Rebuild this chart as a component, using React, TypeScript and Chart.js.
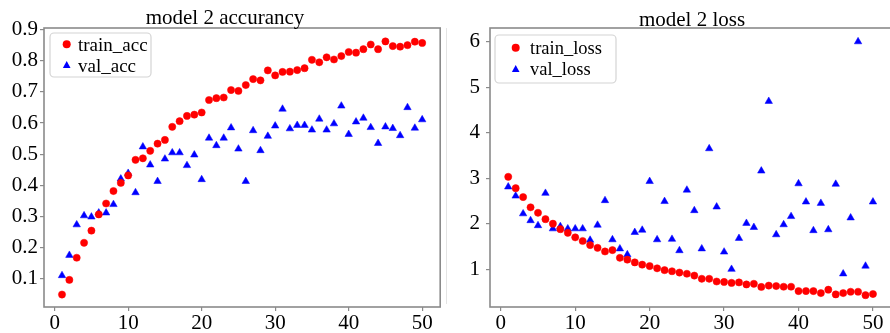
import React, { useEffect, useRef } from "react";
import { Chart, registerables } from "chart.js";

Chart.register(...registerables);

// ---- data ----
const epochs = [
  1, 2, 3, 4, 5, 6, 7, 8, 9, 10, 11, 12, 13, 14, 15, 16, 17, 18, 19, 20, 21, 22, 23, 24, 25,
  26, 27, 28, 29, 30, 31, 32, 33, 34, 35, 36, 37, 38, 39, 40, 41, 42, 43, 44, 45, 46, 47, 48, 49, 50,
];

const trainAcc = [
  0.05, 0.097, 0.168, 0.216, 0.255, 0.307, 0.342, 0.382, 0.408, 0.432,
  0.482, 0.487, 0.511, 0.534, 0.546, 0.588, 0.606, 0.623, 0.627, 0.634,
  0.674, 0.68, 0.682, 0.706, 0.703, 0.722, 0.741, 0.737, 0.769, 0.753,
  0.764, 0.765, 0.77, 0.776, 0.803, 0.795, 0.811, 0.804, 0.815, 0.828,
  0.826, 0.837, 0.852, 0.837, 0.862, 0.847, 0.845, 0.85, 0.861, 0.857,
];

const valAcc = [
  0.111, 0.176, 0.274, 0.303, 0.299, 0.312, 0.312, 0.339, 0.421, 0.439,
  0.377, 0.524, 0.466, 0.413, 0.485, 0.505, 0.505, 0.464, 0.498, 0.419,
  0.552, 0.528, 0.552, 0.585, 0.517, 0.413, 0.576, 0.512, 0.558, 0.591,
  0.645, 0.582, 0.593, 0.593, 0.578, 0.613, 0.578, 0.598, 0.655, 0.564,
  0.604, 0.616, 0.586, 0.535, 0.588, 0.583, 0.56, 0.65, 0.584, 0.611,
];

const trainLoss = [
  3.03, 2.78, 2.585, 2.36, 2.24, 2.1, 2.0, 1.88, 1.8, 1.7,
  1.62, 1.53, 1.47, 1.39, 1.42, 1.25, 1.21, 1.15, 1.1, 1.07,
  1.02, 0.98, 0.956, 0.927, 0.9, 0.86, 0.79, 0.79, 0.73, 0.72,
  0.7, 0.71, 0.665, 0.68, 0.61, 0.64, 0.63, 0.615, 0.615, 0.52,
  0.52, 0.52, 0.475, 0.55, 0.447, 0.475, 0.505, 0.505, 0.43, 0.455,
];

const valLoss = [
  2.81, 2.61, 2.22, 2.07, 1.96, 2.67, 1.89, 1.94, 1.89, 1.89,
  1.89, 1.64, 1.97, 2.51, 1.65, 1.45, 1.32, 1.81, 1.86, 2.93,
  1.65, 2.49, 1.66, 1.41, 2.74, 2.29, 1.45, 3.65, 2.37, 1.38,
  1.0, 1.68, 2.01, 1.92, 3.16, 4.69, 1.76, 1.98, 2.16, 2.88,
  2.48, 1.85, 2.45, 1.87, 2.87, 0.9, 2.13, 6.0, 1.07, 2.48,
];

const epochTicks = [0, 10, 20, 30, 40, 50];
const accTicks = [0.1, 0.2, 0.3, 0.4, 0.5, 0.6, 0.7, 0.8, 0.9];
const lossTicks = [1, 2, 3, 4, 5, 6];

// ---- styling ----
const SERIF = '"Liberation Serif", "Times New Roman", Times, serif';
const RED = "#ff0000";
const BLUE = "#0000ff";
const SPINE = "#8a8a8a";

type Series = {
  label: string;
  values: number[];
  color: string;
  style: "circle" | "triangle";
  radius: number;
};

type PanelSpec = {
  width: number;
  height: number;
  title: string;
  titleX: number;
  titleBaseline: number;
  yTicks: number[];
  yMin: number;
  yMax: number;
  yDecimals: number;
  yAxisWidth: number;
  yLabelPad: number;
  padRight: number;
  series: Series[];
  legendBox: [number, number, number, number];
  legendMarkerX: number;
  legendTextX: number;
  legendMarkerY: number[];
  legendBaselines: number[];
  legendFont: number;
};

function drawMarker(ctx: CanvasRenderingContext2D, s: Series, x: number, y: number) {
  ctx.save();
  ctx.fillStyle = s.color;
  ctx.beginPath();
  if (s.style === "circle") {
    ctx.arc(x, y, 4, 0, Math.PI * 2);
  } else {
    const r = 4.4;
    ctx.moveTo(x, y - r);
    ctx.lineTo(x - r * 0.87, y + r * 0.6);
    ctx.lineTo(x + r * 0.87, y + r * 0.6);
    ctx.closePath();
  }
  ctx.fill();
  ctx.restore();
}

function makeOverlay(spec: PanelSpec) {
  return {
    id: "panelOverlay",
    afterDatasetsDraw(chart: Chart) {
      const { ctx, chartArea } = chart;
      ctx.save();
      ctx.strokeStyle = SPINE;
      ctx.lineWidth = 1.6;
      ctx.strokeRect(
        chartArea.left,
        chartArea.top,
        chartArea.right - chartArea.left,
        chartArea.bottom - chartArea.top
      );
      ctx.restore();
    },
    afterDraw(chart: Chart) {
      const ctx = chart.ctx;
      ctx.save();
      // title
      ctx.fillStyle = "#000";
      ctx.font = `21px ${SERIF}`;
      ctx.textAlign = "center";
      ctx.textBaseline = "alphabetic";
      ctx.fillText(spec.title, spec.titleX, spec.titleBaseline);

      // legend frame
      const [x0, y0, x1, y1] = spec.legendBox;
      ctx.beginPath();
      ctx.roundRect(x0, y0, x1 - x0, y1 - y0, 4);
      ctx.fillStyle = "rgba(255,255,255,0.8)";
      ctx.fill();
      ctx.strokeStyle = "#d4d4d4";
      ctx.lineWidth = 1.2;
      ctx.stroke();

      // legend entries
      ctx.font = `${spec.legendFont}px ${SERIF}`;
      ctx.textAlign = "left";
      ctx.fillStyle = "#000";
      spec.series.forEach((s, i) => {
        drawMarker(ctx, s, spec.legendMarkerX, spec.legendMarkerY[i]);
        ctx.fillStyle = "#000";
        ctx.fillText(s.label, spec.legendTextX, spec.legendBaselines[i]);
      });
      ctx.restore();
    },
  };
}

function buildConfig(spec: PanelSpec): any {
  const tickFont = { family: SERIF, size: 21 };
  return {
    type: "scatter",
    data: {
      datasets: spec.series.map((s) => ({
        label: s.label,
        data: epochs.map((e, i) => ({ x: e, y: s.values[i] })),
        pointStyle: s.style,
        pointRadius: s.radius,
        pointHoverRadius: s.radius,
        backgroundColor: s.color,
        borderColor: s.color,
        borderWidth: 0.5,
        showLine: false,
      })),
    },
    options: {
      responsive: false,
      animation: false,
      devicePixelRatio: 1,
      events: [],
      layout: { padding: { top: 28, right: spec.padRight, left: 0, bottom: 0 } },
      plugins: {
        legend: { display: false },
        title: { display: false },
        tooltip: { enabled: false },
      },
      scales: {
        x: {
          type: "linear",
          min: -1.45,
          max: 52.45,
          afterBuildTicks: (sc: any) => {
            sc.ticks = epochTicks.map((v) => ({ value: v }));
          },
          afterFit: (sc: any) => {
            sc.height = 26;
          },
          border: { display: false },
          grid: {
            display: true,
            drawOnChartArea: false,
            drawTicks: true,
            tickLength: 4,
            tickColor: SPINE,
            color: SPINE,
            lineWidth: 1.2,
          },
          ticks: {
            color: "#000",
            font: tickFont,
            padding: 0,
            maxRotation: 0,
            autoSkip: false,
            includeBounds: false,
            callback: (v: number) => String(v),
          },
        },
        y: {
          type: "linear",
          min: spec.yMin,
          max: spec.yMax,
          afterBuildTicks: (sc: any) => {
            sc.ticks = spec.yTicks.map((v) => ({ value: v }));
          },
          afterFit: (sc: any) => {
            sc.width = spec.yAxisWidth;
          },
          border: { display: false },
          grid: {
            display: true,
            drawOnChartArea: false,
            drawTicks: true,
            tickLength: 4,
            tickColor: SPINE,
            color: SPINE,
            lineWidth: 1.2,
          },
          ticks: {
            color: "#000",
            font: tickFont,
            padding: spec.yLabelPad,
            autoSkip: false,
            includeBounds: false,
            callback: (v: number) => Number(v).toFixed(spec.yDecimals),
          },
        },
      },
    },
    plugins: [makeOverlay(spec)],
  };
}

const accPanel: PanelSpec = {
  width: 445,
  height: 333,
  title: "model 2 accurancy",
  titleX: 225,
  titleBaseline: 24,
  yTicks: accTicks,
  yMin: 0.01,
  yMax: 0.905,
  yDecimals: 1,
  yAxisWidth: 44,
  yLabelPad: 2,
  padRight: 2,
  series: [
    { label: "train_acc", values: trainAcc, color: RED, style: "circle", radius: 3.6 },
    { label: "val_acc", values: valAcc, color: BLUE, style: "triangle", radius: 4.3 },
  ],
  legendBox: [50, 33, 151, 77],
  legendMarkerX: 66.7,
  legendTextX: 78,
  legendMarkerY: [44.3, 65.3],
  legendBaselines: [50.5, 71.5],
  legendFont: 19,
};

// the loss panel runs a little past the right edge of the page
const lossPanel: PanelSpec = {
  width: 451,
  height: 333,
  title: "model 2 loss",
  titleX: 247,
  titleBaseline: 26,
  yTicks: lossTicks,
  yMin: 0.17,
  yMax: 6.3,
  yDecimals: 0,
  yAxisWidth: 45,
  yLabelPad: 6,
  padRight: 2,
  series: [
    { label: "train_loss", values: trainLoss, color: RED, style: "circle", radius: 3.6 },
    { label: "val_loss", values: valLoss, color: BLUE, style: "triangle", radius: 4.3 },
  ],
  legendBox: [50, 35, 171, 83],
  legendMarkerX: 70.7,
  legendTextX: 85,
  legendMarkerY: [47.7, 69.3],
  legendBaselines: [53.5, 74.5],
  legendFont: 18.5,
};

function Panel({ spec, left }: { spec: PanelSpec; left: number }) {
  const ref = useRef<HTMLCanvasElement | null>(null);
  useEffect(() => {
    if (!ref.current) return;
    const chart = new Chart(ref.current, buildConfig(spec));
    return () => chart.destroy();
  }, [spec]);
  return (
    <canvas
      ref={ref}
      width={spec.width}
      height={spec.height}
      style={{
        position: "absolute",
        left,
        top: 0,
        width: spec.width,
        height: spec.height,
      }}
    />
  );
}

export default function App() {
  return (
    <div
      style={{
        position: "fixed",
        left: 0,
        top: 0,
        width: 890,
        height: 333,
        overflow: "hidden",
        background: "#fff",
      }}
    >
      <Panel spec={accPanel} left={0} />
      <Panel spec={lossPanel} left={445} />
      <div
        style={{
          position: "absolute",
          left: 446,
          top: 28,
          width: 1,
          height: 276,
          background: "#e4e4e4",
        }}
      />
    </div>
  );
}
